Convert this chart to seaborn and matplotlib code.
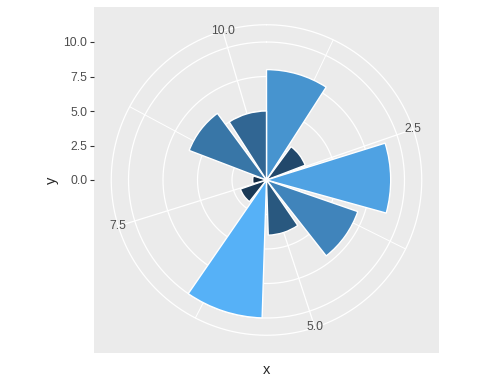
import numpy as np
import pandas as pd
import seaborn as sns
import matplotlib
matplotlib.use("Agg")
import matplotlib.pyplot as plt

# data: one bar per x, fill mapped to y
x_vals = [1, 2, 3, 4, 5, 6, 7, 8, 9, 10]
y_vals = [8, 3, 9, 7, 4, 10, 2, 1, 6, 5]
theta_breaks = [2.5, 5.0, 7.5, 10.0]
theta_minor = [1.25, 3.75, 6.25, 8.75]
r_breaks = [0.0, 2.5, 5.0, 7.5, 10.0]
theta_labels = ["2.5", "5.0", "7.5", "10.0"]
r_labels = ["0.0", "2.5", "5.0", "7.5", "10.0"]

df = pd.DataFrame({"x": x_vals, "y": y_vals})

sns.set_theme(style="white")
plt.rcParams["font.family"] = ["Liberation Sans", "DejaVu Sans"]

W, H = 485, 388
fig = plt.figure(figsize=(W / 100, H / 100), dpi=100)
rect = [94 / W, 35 / H, 345 / W, 346 / H]

bar_w = 0.9
lo = df["x"].min() - bar_w / 2
hi = df["x"].max() + bar_w / 2
ymax = df["y"].max()
r_max = ymax / 0.4 * 0.5      # polar radius fills half the panel, data max sits at 0.4
r_outer = ymax / 0.4 * 0.45   # outer grid circle


def to_theta(v):
    return (np.asarray(v, dtype=float) - lo) / (hi - lo) * 2 * np.pi


# background panel, carries the radial axis on the left
bg = fig.add_axes(rect)
bg.set_facecolor("#EBEBEB")
for s in bg.spines.values():
    s.set_visible(False)
half_h = r_max * 346 / 345
bg.set_ylim(-half_h, half_h)
bg.set_xlim(0, 1)
bg.set_xticks([])
bg.set_yticks(r_breaks)
bg.set_yticklabels(r_labels)
bg.tick_params(axis="y", left=True, length=2.7, width=0.8, color="#333333",
               labelsize=8.7, labelcolor="#4D4D4D", pad=2)
bg.set_xlabel("x", fontsize=10.5, labelpad=7)
bg.set_ylabel("y", fontsize=10.5, labelpad=3)

# polar layer
ax = fig.add_axes(rect, projection="polar")
ax.set_theta_zero_location("N")
ax.set_theta_direction(-1)
ax.set_rlim(0, r_max)
ax.set_axis_off()

circ = np.linspace(0, 2 * np.pi, 400)
for r in r_breaks[1:] + [r_outer]:
    ax.plot(circ, np.full_like(circ, r), color="white", lw=0.9, zorder=1)
for t in to_theta(theta_breaks):
    ax.plot([t, t], [0, r_outer], color="white", lw=0.9, zorder=1)
for t in to_theta(theta_minor):
    ax.plot([t, t], [0, r_outer], color="white", lw=0.7, zorder=1)

cmap = sns.blend_palette(["#132B43", "#56B1F7"], as_cmap=True)
norm = (df["y"] - df["y"].min()) / (df["y"].max() - df["y"].min())
ax.bar(to_theta(df["x"]), df["y"], width=bar_w / (hi - lo) * 2 * np.pi,
       color=[cmap(v) for v in norm], edgecolor="white", linewidth=1.0, zorder=2)

for t, lab in zip(to_theta(theta_breaks), theta_labels):
    ax.text(t, r_outer, lab, ha="center", va="center", fontsize=8.7,
            color="#4D4D4D", zorder=3)

fig.savefig("out.png", dpi=100)
